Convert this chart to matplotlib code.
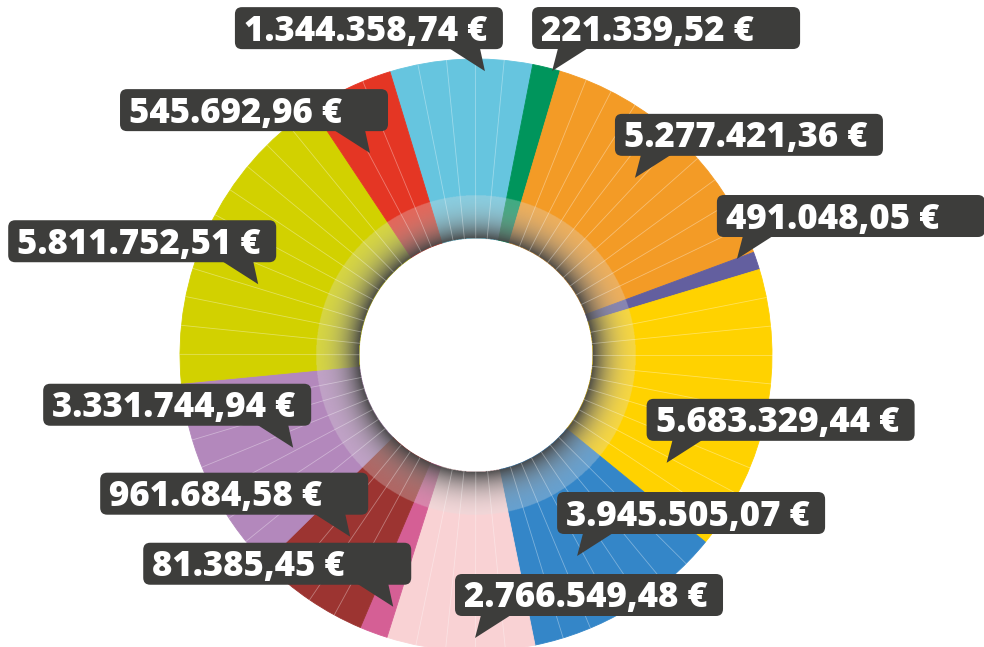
import numpy as np
import matplotlib.pyplot as plt
from matplotlib.patches import FancyBboxPatch, Polygon

# amounts shown in the callouts, clockwise starting with the light blue slice
amounts = [1344358.74, 221339.52, 5277421.36, 491048.05, 5683329.44, 3945505.07,
           2766549.48, 81385.45, 961684.58, 3331744.94, 5811752.51, 545692.96]
# angular size of each slice (degrees) - not proportional to amounts
arc_deg = [27.96, 5.44, 53.2, 3.5, 56.0, 39.3, 29.0, 5.5, 22.4, 39.1, 61.9, 16.7]
colors = ['#66c5df', '#00955c', '#f39b26', '#635f9f', '#ffd200', '#3486c8',
          '#f9d2d4', '#d55f95', '#9c3431', '#b388bc', '#d2d100', '#e43624']

# callout tips: angle clockwise from 12 o'clock, distance from centre, side of the tail
tip_ang = [1.8, 15.0, 41.9, 69.8, 119.5, 153.3, 180.2, 198.2, 214.7, 243.1, 288.0, 332.3]
tip_r = [284, 294, 238, 278, 219, 225, 283, 265, 221, 205, 229, 228]
tip_side = ['R', 'L', 'L', 'L', 'L', 'L', 'L', 'R', 'R', 'R', 'R', 'R']

W, H = 984, 647
cx, cy = 476, 355          # image pixel coords (y down)
r_out, r_in, r_ring = 296, 117, 160
box_w, box_h = 268, 42
box_col = '#3d3d3b'


def up(y):
    return H - y


def euro(v):
    s = '{:,.2f}'.format(v)
    return s.replace(',', 'X').replace('.', ',').replace('X', '.') + ' €'


fig = plt.figure(figsize=(W / 100, H / 100), dpi=100)
ax = fig.add_axes([0, 0, 1, 1])

wedges, _ = ax.pie(arc_deg, colors=colors, startangle=90 + 16.9, counterclock=False,
                   radius=r_out, center=(cx, up(cy)),
                   wedgeprops=dict(width=r_out - r_in, linewidth=0.6))
for w in wedges:
    w.set_edgecolor(w.get_facecolor())

# thin pale lines splitting every slice into its items
start = 360 - 16.9
for w_deg in arc_deg:
    n = max(1, int(round(w_deg / 5.6)))
    for k in range(1, n):
        a = np.radians(start + w_deg * k / n)
        xs = [cx + r_in * np.sin(a), cx + r_out * np.sin(a)]
        ys = [up(cy - r_in * np.cos(a)), up(cy - r_out * np.cos(a))]
        ax.plot(xs, ys, color='white', lw=0.6, alpha=0.35, zorder=4)
    start += w_deg

# shaded inner ring
n = 700
g = np.linspace(-r_ring - 2, r_ring + 2, n)
gx, gy = np.meshgrid(g, g)
rr = np.hypot(gx, gy)
t = np.clip((r_ring - rr) / (r_ring - r_in), 0, 1)
gray = 0.88 - 0.6 * t ** 1.3
alpha = 0.3 + 0.66 * t ** 1.6
alpha[(rr > r_ring) | (rr < r_in)] = 0
img = np.dstack([gray, gray, gray, alpha])
ax.imshow(img, extent=[cx - r_ring - 2, cx + r_ring + 2, up(cy) - r_ring - 2, up(cy) + r_ring + 2],
          origin='lower', interpolation='bilinear', zorder=3)

# callouts
for i, v in enumerate(amounts):
    a = np.radians(tip_ang[i])
    tx = cx + tip_r[i] * np.sin(a)
    ty = cy - tip_r[i] * np.cos(a)
    if tip_side[i] == 'L':
        x0 = tx - 20
        b0, b1 = tx + 6, tx + 36
    else:
        x0 = tx + 18 - box_w
        b0, b1 = tx - 36, tx - 5
    bottom = ty - 22
    ax.add_patch(FancyBboxPatch((x0, up(bottom)), box_w, box_h,
                                boxstyle='round,pad=0,rounding_size=7',
                                fc=box_col, ec='none', zorder=6))
    ax.add_patch(Polygon([(b0, up(bottom) + 1), (b1, up(bottom) + 1), (tx, up(ty))],
                         closed=True, fc=box_col, ec='none', zorder=6))
    ax.text(x0 + 9, up(bottom) + 8.5, euro(v), color='white', fontsize=25,
            fontweight='heavy', family='Open Sans', ha='left', va='baseline', zorder=7)

ax.set_xlim(0, W)
ax.set_ylim(0, H)
ax.set_aspect('equal')
ax.axis('off')

fig.savefig('out.png', dpi=100, facecolor='white')
